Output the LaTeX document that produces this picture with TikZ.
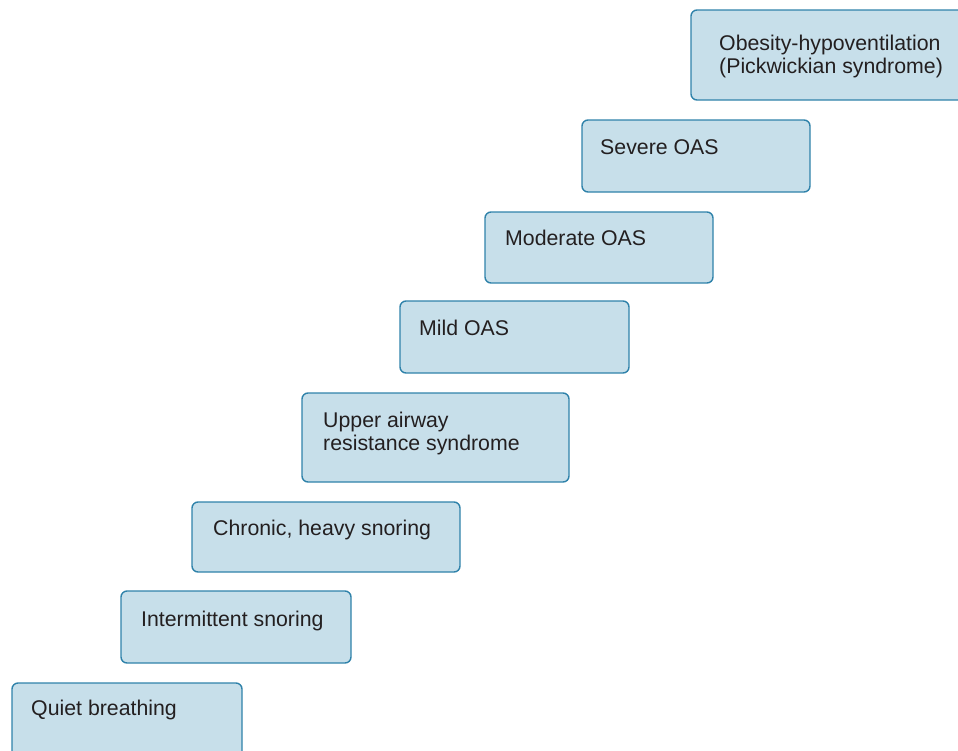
\documentclass[tikz,border=0pt]{standalone}
\usepackage{fontspec}
\setmainfont{Liberation Sans}
\definecolor{boxfill}{HTML}{C7DFEA}
\definecolor{boxline}{HTML}{2F82AA}
\definecolor{txtcol}{HTML}{231F20}
\begin{document}
\begin{tikzpicture}[x=1pt,y=-1pt,
  stepbox/.style={draw=boxline, fill=boxfill, line width=1.4pt, rounded corners=6pt},
  steptext/.style={anchor=base west, inner sep=0pt, text=txtcol, align=left,
    font=\fontsize{21.3}{23}\selectfont}]
\useasboundingbox (0,0) rectangle (958,750);
% boxes
\path[stepbox] (691,10) rectangle (968,100);
\path[stepbox] (582,120) rectangle (810,192);
\path[stepbox] (485,212) rectangle (713,283);
\path[stepbox] (400,301) rectangle (629,373);
\path[stepbox] (302,393) rectangle (569,482);
\path[stepbox] (192,502) rectangle (460,572);
\path[stepbox] (121,591) rectangle (351,663);
\path[stepbox] (12,683) rectangle (242,760);
% texts (multi-line nodes: base = last line)
\node[steptext] (t8) at (719,73) {Obesity-hypoventilation\\(Pickwickian syndrome)};
\node[steptext] (t7) at (600,154) {Severe OAS};
\node[steptext] (t6) at (505,245) {Moderate OAS};
\node[steptext] (t5) at (419,335) {Mild OAS};
\node[steptext] (t4) at (323,450) {Upper airway\\resistance syndrome};
\node[steptext] (t3) at (213,535) {Chronic, heavy snoring};
\node[steptext] (t2) at (141,626) {Intermittent snoring};
\node[steptext] (t1) at (31,715) {Quiet breathing};
\end{tikzpicture}
\end{document}
